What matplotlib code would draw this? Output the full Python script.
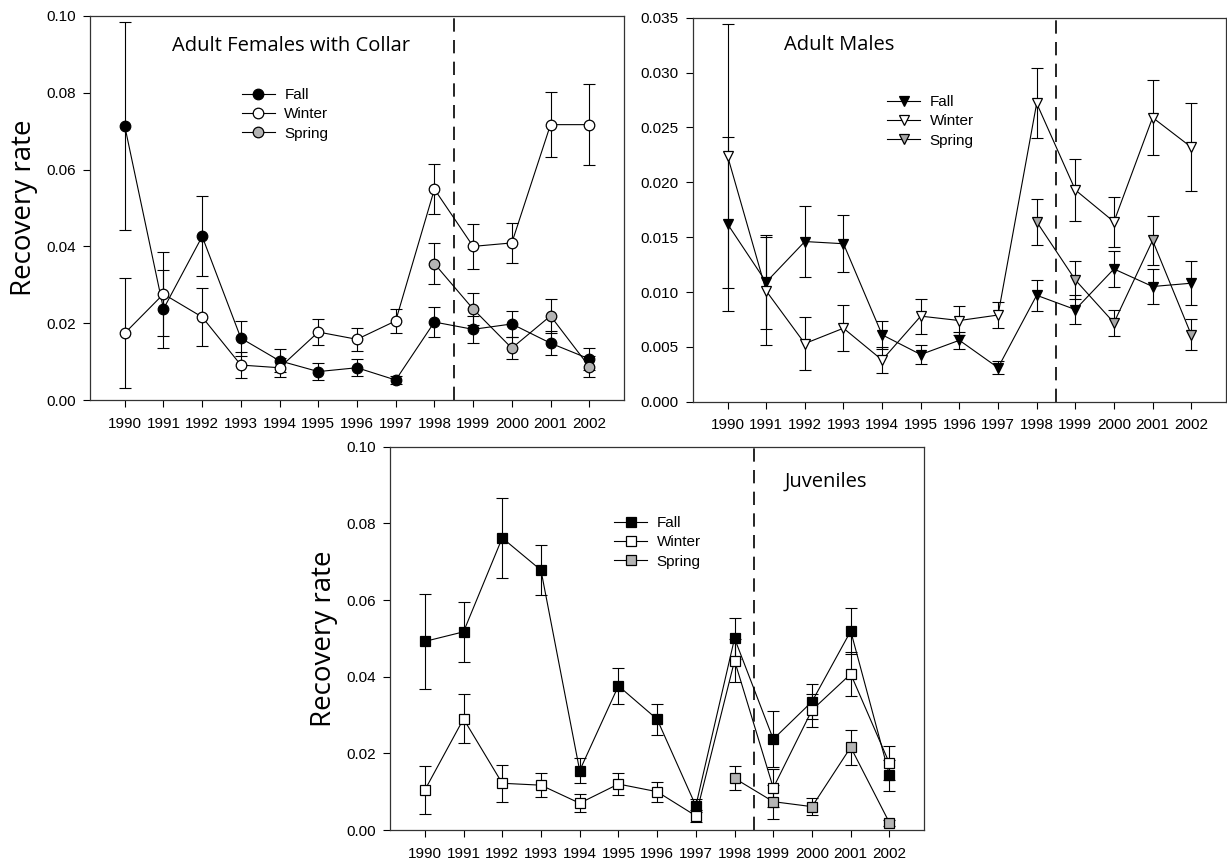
import numpy as np
import matplotlib
matplotlib.use('Agg')
import matplotlib.pyplot as plt

years = np.arange(1990, 2003)
spring_years = np.arange(1998, 2003)

# Adult females with collar
fem_fall = [0.0713, 0.0237, 0.0426, 0.0161, 0.0102, 0.0074, 0.0084, 0.0052, 0.0203, 0.0184, 0.0198, 0.0148, 0.0107]
fem_fall_se = [0.027, 0.0101, 0.0104, 0.0046, 0.003, 0.0022, 0.0022, 0.001, 0.0038, 0.0036, 0.0034, 0.0031, 0.0028]
fem_winter = [0.0174, 0.0276, 0.0216, 0.0091, 0.0084, 0.0177, 0.0158, 0.0206, 0.0549, 0.0400, 0.0409, 0.0717, 0.0717]
fem_winter_se = [0.0143, 0.011, 0.0076, 0.0034, 0.0025, 0.0035, 0.003, 0.0032, 0.0065, 0.0058, 0.0051, 0.0085, 0.0105]
fem_spring = [0.0355, 0.0237, 0.0135, 0.0219, 0.0087]
fem_spring_se = [0.0053, 0.0042, 0.0028, 0.0044, 0.0027]

# Adult males
male_fall = [0.0162, 0.0109, 0.0146, 0.0144, 0.0061, 0.0043, 0.0056, 0.0031, 0.0097, 0.0084, 0.0121, 0.0105, 0.0108]
male_fall_se = [0.0079, 0.0043, 0.0032, 0.0026, 0.0013, 0.0009, 0.0008, 0.0006, 0.0014, 0.0013, 0.0016, 0.0016, 0.002]
male_winter = [0.0224, 0.0101, 0.0053, 0.0067, 0.0038, 0.0078, 0.0074, 0.0079, 0.0272, 0.0193, 0.0164, 0.0259, 0.0232]
male_winter_se = [0.012, 0.0049, 0.0024, 0.0021, 0.0012, 0.0016, 0.0013, 0.0012, 0.0032, 0.0028, 0.0023, 0.0034, 0.004]
male_spring = [0.0164, 0.0111, 0.0072, 0.0147, 0.0061]
male_spring_se = [0.0021, 0.0017, 0.0012, 0.0022, 0.0014]

# Juveniles
juv_fall = [0.0492, 0.0517, 0.0762, 0.0678, 0.0155, 0.0376, 0.0289, 0.0063, 0.0500, 0.0237, 0.0335, 0.0519, 0.0143]
juv_fall_se = [0.0124, 0.0078, 0.0105, 0.0066, 0.0033, 0.0046, 0.0041, 0.0017, 0.0053, 0.0073, 0.0045, 0.0059, 0.004]
juv_winter = [0.0104, 0.029, 0.0122, 0.0117, 0.007, 0.012, 0.01, 0.0037, 0.0442, 0.011, 0.0313, 0.0407, 0.0174]
juv_winter_se = [0.0063, 0.0064, 0.0048, 0.0032, 0.0024, 0.0029, 0.0026, 0.0015, 0.0057, 0.005, 0.0043, 0.0057, 0.0044]
juv_spring = [0.0135, 0.0074, 0.0061, 0.0216, 0.0019]
juv_spring_se = [0.0031, 0.0044, 0.0022, 0.0046, 0.0008]

plt.rcParams['font.family'] = ['Liberation Sans', 'DejaVu Sans']
plt.rcParams['font.size'] = 11

title_font = dict(family=['Open Sans', 'DejaVu Sans'], fontsize=14.5)
ylab_font = dict(fontfamily=['Open Sans', 'DejaVu Sans'], fontsize=20)

fig = plt.figure(figsize=(12.27, 8.63), dpi=100)
ax1 = fig.add_axes([0.0733, 0.5365, 0.4353, 0.445])
ax2 = fig.add_axes([0.5646, 0.5345, 0.4346, 0.445])
ax3 = fig.add_axes([0.3178, 0.0382, 0.4355, 0.4442])


def draw_series(ax, x, y, se, marker, face, ms, label):
    ax.errorbar(x, y, yerr=se, fmt='none', ecolor='black', elinewidth=0.8,
                capsize=4, capthick=0.8, zorder=2)
    ax.plot(x, y, '-', color='black', lw=0.8, marker=marker, ms=ms,
            mfc=face, mec='black', mew=0.9, label=label, zorder=3)


def style_axis(ax, ymax, ystep, fmt):
    ax.set_xlim(1989.1, 2002.9)
    ax.set_ylim(0, ymax)
    ax.set_xticks(years)
    ax.set_xticklabels([str(y) for y in years])
    ticks = np.arange(0, ymax + ystep / 2, ystep)
    ax.set_yticks(ticks)
    ax.set_yticklabels([fmt.format(v) for v in ticks])
    ax.tick_params(direction='out', length=5, width=0.8, pad=5, labelsize=11)
    ax.tick_params(axis='x', pad=7)
    for s in ax.spines.values():
        s.set_linewidth(0.9)
        s.set_color('#333333')
    ax.axvline(1998.5, color='black', lw=1.2, ls=(0, (8, 5)), zorder=1)


def add_legend(ax, x, y):
    ax.legend(loc='upper left', bbox_to_anchor=(x, y), frameon=False,
              borderpad=0, borderaxespad=0, handlelength=2.2,
              handletextpad=0.6, labelspacing=0.35, fontsize=11)


# panel 1
draw_series(ax1, years, fem_fall, fem_fall_se, 'o', 'black', 7.6, 'Fall')
draw_series(ax1, years, fem_winter, fem_winter_se, 'o', 'white', 7.6, 'Winter')
draw_series(ax1, spring_years, fem_spring, fem_spring_se, 'o', '#b4b4b4', 7.6, 'Spring')
style_axis(ax1, 0.10, 0.02, '{:.2f}')
add_legend(ax1, 0.284, 0.8125)
ax1.text(0.376, 0.922, 'Adult Females with Collar', transform=ax1.transAxes,
         ha='center', va='center', **title_font)
ax1.set_ylabel('Recovery rate', labelpad=6, **ylab_font)

# panel 2
draw_series(ax2, years, male_fall, male_fall_se, 'v', 'black', 7.4, 'Fall')
draw_series(ax2, years, male_winter, male_winter_se, 'v', 'white', 7.4, 'Winter')
draw_series(ax2, spring_years, male_spring, male_spring_se, 'v', '#a8a8a8', 7.4, 'Spring')
style_axis(ax2, 0.035, 0.005, '{:.3f}')
add_legend(ax2, 0.364, 0.799)
ax2.text(0.275, 0.929, 'Adult Males', transform=ax2.transAxes,
         ha='center', va='center', **title_font)

# panel 3
draw_series(ax3, years, juv_fall, juv_fall_se, 's', 'black', 6.8, 'Fall')
draw_series(ax3, years, juv_winter, juv_winter_se, 's', 'white', 6.8, 'Winter')
draw_series(ax3, spring_years, juv_spring, juv_spring_se, 's', '#b4b4b4', 6.8, 'Spring')
style_axis(ax3, 0.10, 0.02, '{:.2f}')
add_legend(ax3, 0.419, 0.819)
ax3.text(0.815, 0.909, 'Juveniles', transform=ax3.transAxes,
         ha='center', va='center', **title_font)
ax3.set_ylabel('Recovery rate', labelpad=6, **ylab_font)

fig.savefig('out.png', dpi=100)
